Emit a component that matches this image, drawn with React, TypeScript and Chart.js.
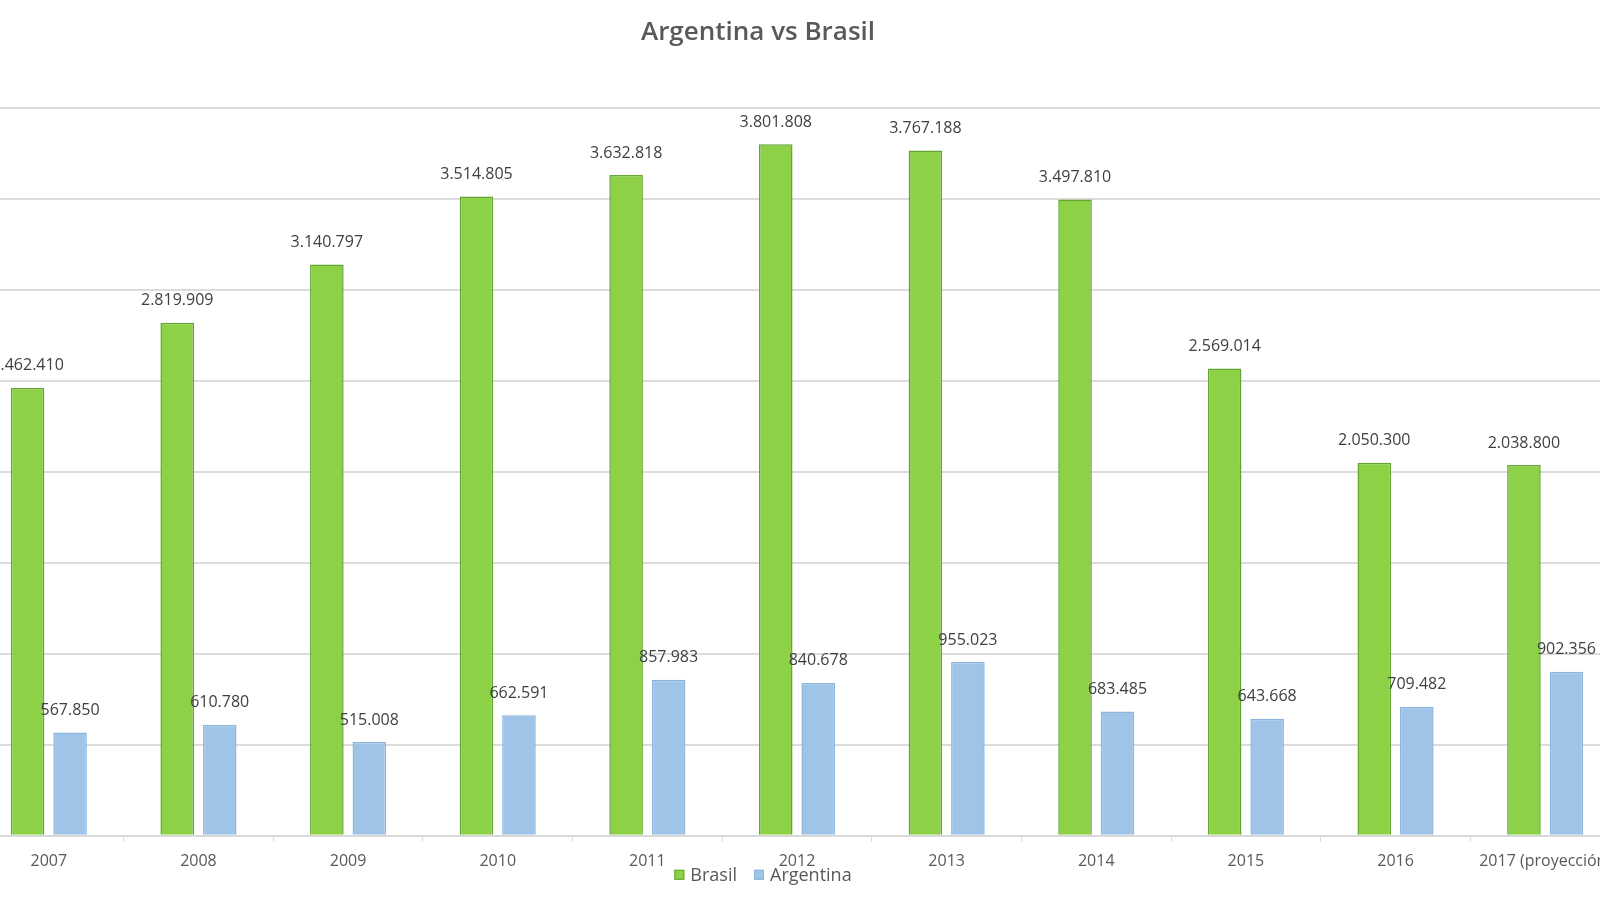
import React, { useEffect, useRef } from 'react';
import { Chart, registerables } from 'chart.js';

Chart.register(...registerables);

const categories = ['2007', '2008', '2009', '2010', '2011', '2012', '2013', '2014', '2015', '2016', '2017 (proyección)'];
const brasilValues = [2462410, 2819909, 3140797, 3514805, 3632818, 3801808, 3767188, 3497810, 2569014, 2050300, 2038800];
const argentinaValues = [567850, 610780, 515008, 662591, 857983, 840678, 955023, 683485, 643668, 709482, 902356];
const yMin = 0;
const yMax = 4000000;
const yStep = 500000;

const fmt = (v: number) => String(v).replace(/\B(?=(\d{3})+(?!\d))/g, '.');

const valueLabels = {
  id: 'valueLabels',
  afterDatasetsDraw(chart: any) {
    const ctx = chart.ctx;
    ctx.save();
    ctx.font = '16px "Open Sans"';
    ctx.fillStyle = '#404040';
    ctx.textAlign = 'center';
    ctx.textBaseline = 'middle';
    chart.data.datasets.forEach((ds: any, i: number) => {
      const meta = chart.getDatasetMeta(i);
      meta.data.forEach((el: any, j: number) => {
        ctx.fillText(fmt(ds.data[j]), el.x, el.y - 22);
      });
    });
    ctx.restore();
  },
};

// Legend drawn from the datasets, overlapping the axis labels like the source chart
const overlapLegend = {
  id: 'overlapLegend',
  afterDraw(chart: any) {
    const ctx = chart.ctx;
    const box = 10;
    const gapText = 6;
    const gapItem = 17;
    ctx.save();
    ctx.font = '18px "Open Sans"';
    ctx.textBaseline = 'middle';
    ctx.textAlign = 'left';
    const items = chart.data.datasets.map((ds: any) => ({
      label: ds.label,
      fill: ds.backgroundColor,
      stroke: ds.borderColor,
      w: ctx.measureText(ds.label).width,
    }));
    const total = items.reduce((s: number, it: any) => s + box + gapText + it.w, 0) + gapItem * (items.length - 1);
    const cx = chart.width / 2;
    const cy = chart.chartArea.bottom + 39;
    let x = cx - total / 2;
    items.forEach((it: any) => {
      ctx.fillStyle = it.fill;
      ctx.fillRect(x, cy - box / 2, box, box);
      ctx.strokeStyle = it.stroke;
      ctx.lineWidth = 1;
      ctx.strokeRect(x + 0.5, cy - box / 2 + 0.5, box - 1, box - 1);
      x += box + gapText;
      ctx.fillStyle = '#595959';
      ctx.fillText(it.label, x, cy + 1);
      x += it.w + gapItem;
    });
    ctx.restore();
  },
};

export default function App() {
  const ref = useRef<HTMLCanvasElement | null>(null);

  useEffect(() => {
    if (!ref.current) return;
    const chart = new Chart(ref.current, {
      type: 'bar',
      data: {
        labels: categories,
        datasets: [
          {
            label: 'Brasil',
            data: brasilValues,
            backgroundColor: '#8dd147',
            borderColor: '#62a532',
            borderWidth: 1.5,
            barPercentage: 0.79,
            categoryPercentage: 0.568,
          },
          {
            label: 'Argentina',
            data: argentinaValues,
            backgroundColor: '#9ec5e8',
            borderColor: '#8bb5dc',
            borderWidth: 1.5,
            barPercentage: 0.79,
            categoryPercentage: 0.568,
          },
        ],
      },
      options: {
        responsive: false,
        animation: false,
        layout: { padding: { left: 0, right: 10, top: 0, bottom: 19 } },
        scales: {
          x: {
            grid: {
              display: true,
              drawOnChartArea: false,
              drawTicks: true,
              tickLength: 6,
              color: '#d9d9d9',
              offset: true,
            },
            border: { display: true, color: '#d9d9d9', width: 2 },
            ticks: {
              padding: 10,
              color: '#595959',
              font: { family: 'Open Sans', size: 16 },
              maxRotation: 0,
              autoSkip: false,
            },
          },
          y: {
            min: yMin,
            max: yMax,
            ticks: { display: false, stepSize: yStep },
            border: { display: false },
            grid: { color: '#dcdcdc', lineWidth: 2, drawTicks: false },
            afterFit: (scale: any) => {
              scale.width = 78;
            },
          },
        },
        plugins: {
          title: {
            display: true,
            text: 'Argentina vs Brasil',
            color: '#595959',
            font: { family: 'Open Sans', size: 26, weight: '600' },
            padding: { top: 17, bottom: 60 },
          },
          legend: { display: false },
          tooltip: { enabled: false },
        },
      },
      plugins: [valueLabels, overlapLegend],
    });
    return () => chart.destroy();
  }, []);

  return (
    <div style={{ position: 'fixed', left: 0, top: 0, width: 1600, height: 900, overflow: 'hidden', background: '#fff' }}>
      <canvas ref={ref} width={1734} height={900} style={{ position: 'absolute', left: -104, top: 0, width: 1734, height: 900 }} />
    </div>
  );
}
